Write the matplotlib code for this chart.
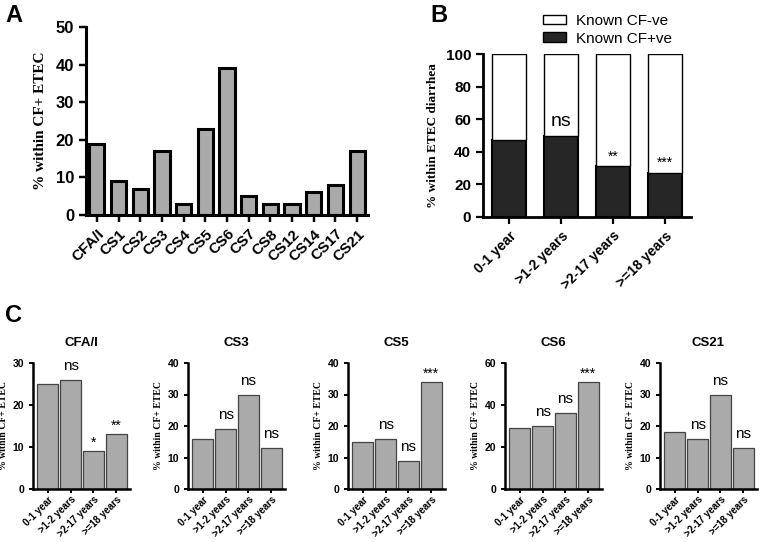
import numpy as np
import matplotlib
matplotlib.use('Agg')
import matplotlib.pyplot as plt
from matplotlib.patches import Patch

plt.rcParams['font.family'] = ['Liberation Sans', 'DejaVu Sans']

# ===== DATA =====
# Panel A
cf_types = ['CFA/I', 'CS1', 'CS2', 'CS3', 'CS4', 'CS5', 'CS6', 'CS7', 'CS8',
            'CS12', 'CS14', 'CS17', 'CS21']
cf_pct = [19, 9, 7, 17, 3, 23, 39, 5, 3, 3, 6, 8, 17]

# Panel B
age_groups = ['0-1 year', '>1-2 years', '>2-17 years', '>=18 years']
known_pos = [47, 50, 31, 27]
known_neg = [100 - v for v in known_pos]
sig_b = ['', 'ns', '**', '***']

# Panel C
c_titles = ['CFA/I', 'CS3', 'CS5', 'CS6', 'CS21']
c_values = {
    'CFA/I': [25, 26, 9, 13],
    'CS3': [16, 19, 30, 13],
    'CS5': [15, 16, 9, 34],
    'CS6': [29, 30, 36, 51],
    'CS21': [18, 16, 30, 13],
}
c_sig = {
    'CFA/I': ['', 'ns', '*', '**'],
    'CS3': ['', 'ns', 'ns', 'ns'],
    'CS5': ['', 'ns', 'ns', '***'],
    'CS6': ['', 'ns', 'ns', '***'],
    'CS21': ['', 'ns', 'ns', 'ns'],
}
c_ymax = {'CFA/I': 30, 'CS3': 40, 'CS5': 40, 'CS6': 60, 'CS21': 40}
c_ystep = {'CFA/I': 10, 'CS3': 10, 'CS5': 10, 'CS6': 20, 'CS21': 10}

GRAY = '#aaaaaa'
DARK = '#262626'
W, H = 767, 542
fig = plt.figure(figsize=(W / 100, H / 100), dpi=100)


def px_axes(x0, y0, x1, y1):
    # pixel box (left, top, right, bottom) -> figure fraction
    return fig.add_axes([x0 / W, 1 - y1 / H, (x1 - x0) / W, (y1 - y0) / H])


def style(ax, lw=2.0, tl=5):
    for s in ['top', 'right']:
        ax.spines[s].set_visible(False)
    for s in ['left', 'bottom']:
        ax.spines[s].set_linewidth(lw)
    ax.tick_params(width=lw * 0.8, length=tl, direction='out')


# ===== PANEL A =====
axA = px_axes(86, 27, 368, 215)
x = np.arange(len(cf_types))
axA.bar(x, cf_pct, width=0.7, color=GRAY, edgecolor='black', linewidth=2.2)
axA.set_xlim(-0.5, len(cf_types) - 0.5)
axA.set_ylim(0, 50)
axA.set_yticks(range(0, 51, 10))
axA.set_xticks(x)
axA.set_xticklabels(cf_types, rotation=45, ha='right', rotation_mode='anchor',
                    fontsize=11, fontweight='bold')
for lab in axA.get_yticklabels():
    lab.set_fontsize(12)
    lab.set_fontweight('bold')
axA.set_ylabel('% within CF+ ETEC', fontsize=11, fontweight='bold',
               family='Liberation Serif', labelpad=6)
style(axA, lw=2.2)

# ===== PANEL B =====
axB = px_axes(483, 54, 691, 217)
xb = np.arange(len(age_groups))
axB.bar(xb, known_pos, width=0.67, color=DARK, edgecolor='black', linewidth=1.5)
axB.bar(xb, known_neg, bottom=known_pos, width=0.67, color='white',
        edgecolor='black', linewidth=1.0)
axB.set_xlim(-0.5, len(age_groups) - 0.5)
axB.set_ylim(0, 100)
axB.set_yticks(range(0, 101, 20))
axB.set_xticks(xb)
axB.set_xticklabels(age_groups, rotation=45, ha='right', rotation_mode='anchor',
                    fontsize=10, fontweight='bold')
for lab in axB.get_yticklabels():
    lab.set_fontsize(11)
    lab.set_fontweight('bold')
axB.set_ylabel('% within ETEC diarrhea', fontsize=9.5, fontweight='bold',
               family='Liberation Serif', labelpad=5)
style(axB, lw=2.0)
for xi, v, s in zip(xb, known_pos, sig_b):
    if s == 'ns':
        axB.annotate(s, (xi, v), xytext=(0, 4), textcoords='offset points',
                     ha='center', va='bottom', fontsize=14)
    elif s:
        axB.annotate(s, (xi, v), xytext=(0, 2), textcoords='offset points',
                     ha='center', va='bottom', fontsize=10)

fig.legend(handles=[Patch(facecolor='white', edgecolor='black', linewidth=1.0),
                    Patch(facecolor=DARK, edgecolor='black', linewidth=1.0)],
           labels=['Known CF-ve', 'Known CF+ve'], loc='upper left',
           bbox_to_anchor=(529 / W, 1 - 0 / H), frameon=False, fontsize=11,
           handlelength=1.5, handleheight=0.6, handletextpad=0.7,
           labelspacing=0.25)

# ===== PANEL C =====
c_left = [33, 188, 348, 505, 660]
for left, name in zip(c_left, c_titles):
    ax = px_axes(left, 363, left + 97, 489)
    vals = c_values[name]
    xc = np.arange(len(vals))
    ax.bar(xc, vals, width=0.93, color=GRAY, edgecolor='#444444', linewidth=0.9)
    ax.set_xlim(-0.65, 3.6)
    ax.set_ylim(0, c_ymax[name])
    ax.set_yticks(range(0, c_ymax[name] + 1, c_ystep[name]))
    ax.set_xticks(xc)
    ax.set_xticklabels(age_groups, rotation=45, ha='right',
                       rotation_mode='anchor', fontsize=7, fontweight='bold')
    for lab in ax.get_yticklabels():
        lab.set_fontsize(7.5)
        lab.set_fontweight('bold')
    ax.set_ylabel('% within CF+ ETEC', fontsize=7, fontweight='bold',
                  family='Liberation Serif', labelpad=3)
    ax.set_title(name, fontsize=9.5, fontweight='bold', pad=12)
    style(ax, lw=1.8, tl=3)
    ax.tick_params(axis='x', pad=1)
    for xi, v, s in zip(xc, vals, c_sig[name]):
        if s == 'ns':
            ax.annotate(s, (xi, v), xytext=(0, 5), textcoords='offset points',
                        ha='center', va='bottom', fontsize=11)
        elif s:
            ax.annotate(s, (xi, v), xytext=(0, 1), textcoords='offset points',
                        ha='center', va='bottom', fontsize=10)

# panel letters
fig.text(5 / W, 1 - 4 / H, 'A', fontsize=17, fontweight='bold', va='top')
fig.text(430 / W, 1 - 4 / H, 'B', fontsize=17, fontweight='bold', va='top')
fig.text(5 / W, 1 - 304 / H, 'C', fontsize=17, fontweight='bold', va='top')

plt.savefig('out.png', dpi=100)
